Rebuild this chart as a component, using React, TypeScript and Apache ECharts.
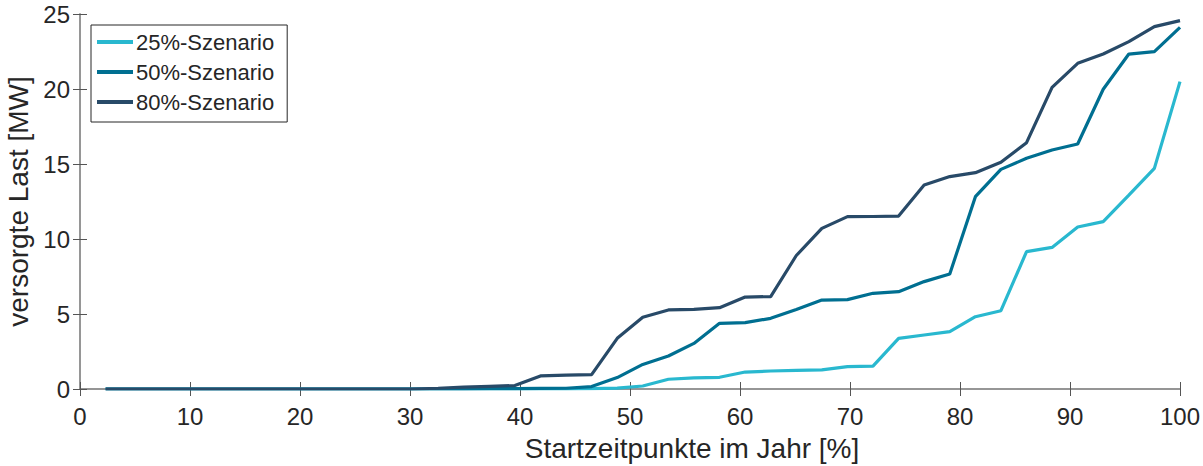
import React, { useEffect, useRef } from "react";
import * as echarts from "echarts";

const xValues: number[] = [
  2.33, 4.65, 6.98, 9.3, 11.63, 13.95, 16.28, 18.6, 20.93, 23.26,
  25.58, 27.91, 30.23, 32.56, 34.88, 37.21, 39.53, 41.86, 44.19, 46.51,
  48.84, 51.16, 53.49, 55.81, 58.14, 60.47, 62.79, 65.12, 67.44, 69.77,
  72.09, 74.42, 76.74, 79.07, 81.4, 83.72, 86.05, 88.37, 90.7, 93.02,
  95.35, 97.67, 100,
];

const s25: number[] = [
  0, 0, 0, 0, 0, 0, 0, 0, 0, 0,
  0, 0, 0, 0, 0, 0, 0, 0, 0, 0.03,
  0.06, 0.2, 0.65, 0.74, 0.78, 1.13, 1.2, 1.24, 1.27, 1.49,
  1.53, 3.38, 3.6, 3.82, 4.82, 5.22, 9.16, 9.44, 10.8, 11.16,
  12.93, 14.71, 20.49,
];

const s50: number[] = [
  0, 0, 0, 0, 0, 0, 0, 0, 0, 0,
  0, 0, 0, 0, 0.01, 0.02, 0.03, 0.04, 0.05, 0.16,
  0.76, 1.64, 2.2, 3.04, 4.38, 4.42, 4.71, 5.3, 5.93, 5.96,
  6.38, 6.49, 7.16, 7.67, 12.82, 14.64, 15.38, 15.93, 16.33, 19.98,
  22.33, 22.49, 24.11,
];

const s80: number[] = [
  0, 0, 0, 0, 0, 0, 0, 0, 0, 0,
  0, 0, 0, 0.05, 0.13, 0.18, 0.23, 0.87, 0.93, 0.96,
  3.38, 4.78, 5.27, 5.31, 5.42, 6.13, 6.16, 8.9, 10.71, 11.49,
  11.5, 11.53, 13.6, 14.16, 14.42, 15.11, 16.42, 20.11, 21.71, 22.33,
  23.16, 24.16, 24.56,
];

const seriesNames = ["25%-Szenario", "50%-Szenario", "80%-Szenario"];
const seriesColors = ["#29B8CF", "#006F91", "#284A68"];
const xLabel = "Startzeitpunkte im Jahr [%]";
const yLabel = "versorgte Last [MW]";

const FONT = "'Liberation Sans', Arial, Helvetica, sans-serif";
const TEXT = "#262626";
const AXIS = "#8f8f8f";

export default function App() {
  const ref = useRef<HTMLDivElement>(null);

  useEffect(() => {
    if (!ref.current) return;
    const chart = echarts.init(ref.current, undefined, { renderer: "svg" });
    const allData = [s25, s50, s80];
    const baseAxis = {
      axisLine: { show: true, lineStyle: { color: AXIS, width: 1.5 } },
      axisTick: { show: true, inside: true, length: 7, lineStyle: { color: "#555", width: 1 } },
      splitLine: { show: false },
    };
    chart.setOption({
      animation: false,
      backgroundColor: "#ffffff",
      textStyle: { fontFamily: FONT },
      grid: { left: 80, right: 23, top: 14, bottom: 77, containLabel: false, outerBoundsMode: "none" },
      legend: {
        orient: "vertical",
        left: 91,
        top: 25,
        data: seriesNames,
        icon: "rect",
        itemWidth: 36,
        itemHeight: 4,
        itemGap: 8,
        padding: [6, 13, 9, 6],
        borderColor: "#262626",
        borderWidth: 1,
        backgroundColor: "#ffffff",
        textStyle: { fontSize: 22, lineHeight: 22, color: TEXT, fontFamily: FONT, padding: [0, 0, 0, -2] },
      },
      xAxis: [
        {
          ...baseAxis,
          type: "value",
          min: 0,
          max: 100,
          interval: 10,
          position: "bottom",
          name: xLabel,
          nameLocation: "middle",
          nameGap: 45,
          nameTextStyle: { fontSize: 28, color: TEXT, fontFamily: FONT, padding: [0, 0, 0, 124] },
          axisLabel: { fontSize: 24, color: TEXT, margin: 15, fontFamily: FONT },
        },
        {
          ...baseAxis,
          type: "value",
          min: 0,
          max: 100,
          interval: 10,
          position: "top",
          axisLabel: { show: false },
        },
      ],
      yAxis: [
        {
          ...baseAxis,
          type: "value",
          min: 0,
          max: 25,
          interval: 5,
          position: "left",
          name: yLabel,
          nameLocation: "middle",
          nameGap: 43,
          nameRotate: 90,
          nameTextStyle: { fontSize: 28, color: TEXT, fontFamily: FONT },
          axisLabel: { fontSize: 24, color: TEXT, margin: 10, fontFamily: FONT },
        },
        {
          ...baseAxis,
          type: "value",
          min: 0,
          max: 25,
          interval: 5,
          position: "right",
          axisLabel: { show: false },
        },
      ],
      series: seriesNames.map((name, i) => ({
        name,
        type: "line",
        xAxisIndex: 0,
        yAxisIndex: 0,
        data: xValues.map((x, j) => [x, allData[i][j]]),
        showSymbol: false,
        symbol: "none",
        color: seriesColors[i],
        lineStyle: { color: seriesColors[i], width: 3.2 },
        z: 2 + i,
      })),
    });
    return () => chart.dispose();
  }, []);

  return <div ref={ref} style={{ width: 1203, height: 466, position: "absolute", left: 0, top: 0 }} />;
}
